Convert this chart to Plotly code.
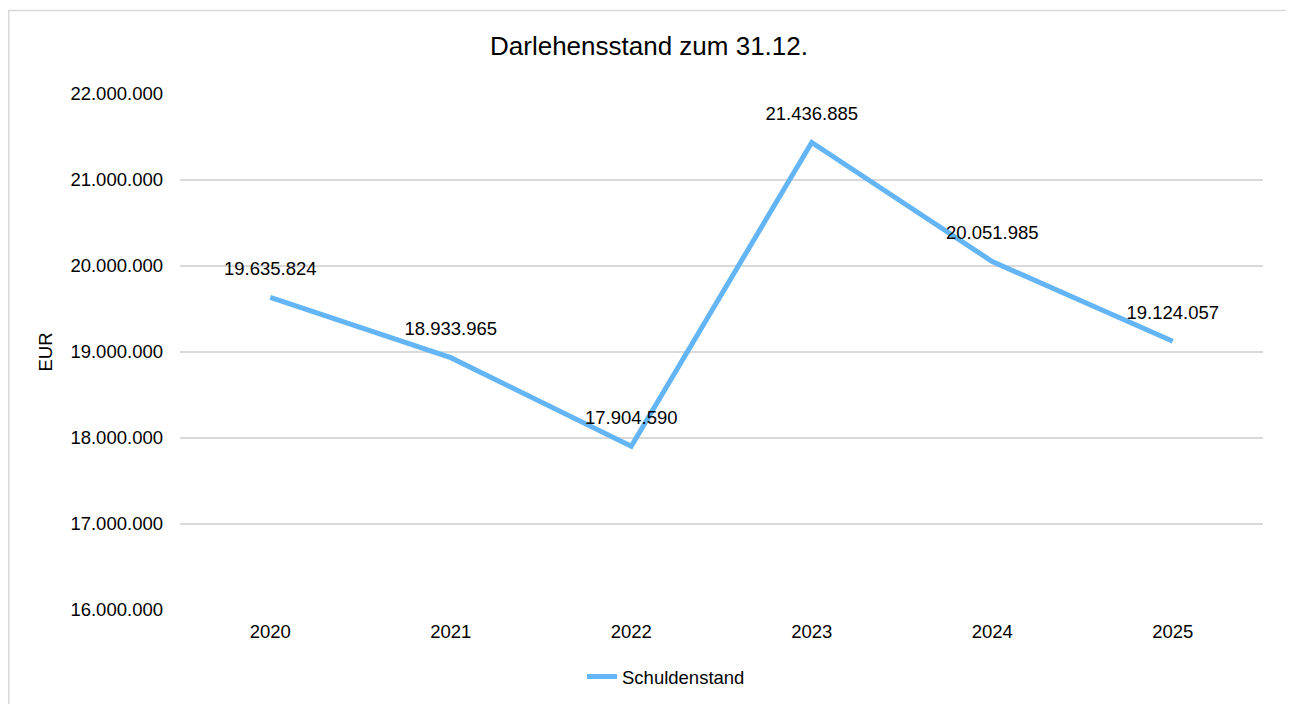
import plotly.graph_objects as go

years = ["2020", "2021", "2022", "2023", "2024", "2025"]
values = [19635824, 18933965, 17904590, 21436885, 20051985, 19124057]
labels = ["19.635.824", "18.933.965", "17.904.590", "21.436.885", "20.051.985", "19.124.057"]
tick_vals = [16000000, 17000000, 18000000, 19000000, 20000000, 21000000, 22000000]
tick_text = ["16.000.000", "17.000.000", "18.000.000", "19.000.000", "20.000.000", "21.000.000", "22.000.000"]

# page has an 8px body offset; figure coordinates = reference - 8
OFF = 8
W, H = 1294 - OFF, 704 - OFF
L = 180 - OFF
T = 94 - OFF
R = W - (1263 - OFF)
B = H - (610 - OFF)
pw, ph = W - L - R, H - T - B

fig = go.Figure()
fig.add_trace(go.Scatter(
    x=years, y=values, mode="lines", name="Schuldenstand",
    line=dict(color="#63B5F5", width=5), hoverinfo="skip",
))
fig.add_trace(go.Scatter(
    x=years, y=values, mode="markers+text", text=labels,
    textposition="top center", showlegend=False, hoverinfo="skip",
    marker=dict(size=27, opacity=0, color="#63B5F5"),
    textfont=dict(size=18.5, color="#000000"),
    cliponaxis=False,
))

# outer frame
fig.add_shape(type="rect", xref="paper", yref="paper",
              x0=(0.75 - L) / pw, x1=(1284 - L) / pw,
              y0=(H - 760 - B) / ph, y1=(H - 2.5 - B) / ph,
              line=dict(color="#D9D9D9", width=1.5), layer="below")

fig.update_layout(
    width=W, height=H,
    margin=dict(l=L, r=R, t=T, b=B, autoexpand=False),
    paper_bgcolor="white", plot_bgcolor="white",
    font=dict(family="Liberation Sans, Arial, sans-serif", size=18.5, color="#000000"),
    title=dict(text="Darlehensstand zum 31.12.", x=(649 - OFF - L) / pw, xref="paper",
               xanchor="center", y=1 - (46 - OFF) / H, yanchor="middle",
               font=dict(size=26, color="#000000")),
    showlegend=True,
    legend=dict(orientation="h", x=(666 - OFF) / W, xref="container", xanchor="center",
                y=1 - (677 - OFF) / H, yref="container", yanchor="middle",
                font=dict(size=18.5), bgcolor="rgba(0,0,0,0)"),
    xaxis=dict(type="category", range=[-0.5, 5.5], showgrid=False, showline=False,
               ticks="", ticklabelstandoff=8, zeroline=False),
    yaxis=dict(range=[16000000, 22000000], tickvals=tick_vals, ticktext=tick_text,
               showgrid=True, gridcolor="#D9D9D9", gridwidth=1.5, zeroline=False,
               showline=False, ticks="", ticklabelstandoff=16,
               title=dict(text="EUR", standoff=12, font=dict(size=18.5))),
)

fig.write_html("out.html")
